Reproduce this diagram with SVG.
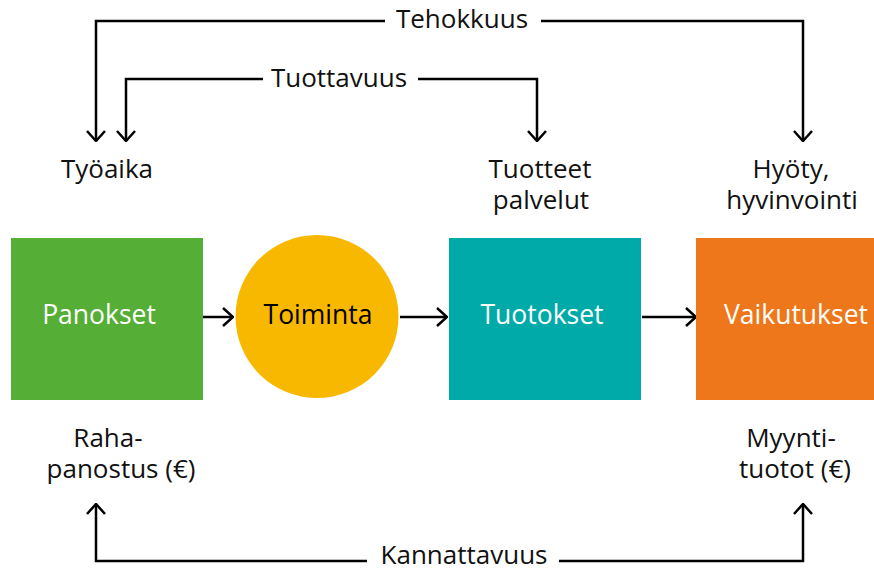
<svg xmlns="http://www.w3.org/2000/svg" width="874" height="571" viewBox="0 0 874 571">
  <style>
    .lbl { font-family: "Open Sans", "Liberation Sans", sans-serif; font-size: 26px; fill: #111; text-anchor: middle; }
    .in { font-family: "Open Sans", "Liberation Sans", sans-serif; font-size: 26.5px; text-anchor: middle; }
    .ln { fill: none; stroke: #000; stroke-width: 2.5; }
  </style>
  <defs>
    <marker id="arr" viewBox="0 0 12 20" refX="11" refY="10" markerWidth="12" markerHeight="20" markerUnits="userSpaceOnUse" orient="auto">
      <path d="M1,1 L11,10 L1,19" fill="none" stroke="#000" stroke-width="2.5"/>
    </marker>
  </defs>
  <rect width="874" height="571" fill="#fff"/>

  <g id="connectors">
    <!-- Tehokkuus -->
    <path class="ln" d="M385,21 H96 V141" marker-end="url(#arr)"/>
    <path class="ln" d="M541,21 H803 V141" marker-end="url(#arr)"/>
    <!-- Tuottavuus -->
    <path class="ln" d="M263,79 H126 V141" marker-end="url(#arr)"/>
    <path class="ln" d="M418,79 H537 V141" marker-end="url(#arr)"/>
    <!-- Kannattavuus -->
    <path class="ln" d="M367,561 H96 V504" marker-end="url(#arr)"/>
    <path class="ln" d="M559,561 H803 V504" marker-end="url(#arr)"/>
    <!-- flow -->
    <path class="ln" d="M203,317 H233" marker-end="url(#arr)"/>
    <path class="ln" d="M400,317 H447" marker-end="url(#arr)"/>
    <path class="ln" d="M642,317 H696" marker-end="url(#arr)"/>
    <text class="lbl" x="462" y="28">Tehokkuus</text>
    <text class="lbl" x="339" y="87">Tuottavuus</text>
    <text class="lbl" x="464" y="564">Kannattavuus</text>
  </g>

  <g id="panokset">
    <rect x="11" y="238" width="192" height="162" fill="#55AE35"/>
    <text class="in" x="99" y="324" fill="#fff">Panokset</text>
  </g>
  <g id="toiminta">
    <circle cx="317" cy="316.5" r="81.5" fill="#F9B800"/>
    <text class="in" x="318" y="324" fill="#000">Toiminta</text>
  </g>
  <g id="tuotokset">
    <rect x="449" y="238" width="192" height="162" fill="#00AAA8"/>
    <text class="in" x="542" y="324" fill="#fff">Tuotokset</text>
  </g>
  <g id="vaikutukset">
    <rect x="696" y="238" width="192" height="162" fill="#EE771C"/>
    <text class="in" x="796" y="324" fill="#fff">Vaikutukset</text>
  </g>

  <g id="tyoaika">
    <text class="lbl" x="107" y="178">Työaika</text>
  </g>
  <g id="tuotteet">
    <text class="lbl" x="540" y="178">Tuotteet</text>
    <text class="lbl" x="541" y="209">palvelut</text>
  </g>
  <g id="hyoty">
    <text class="lbl" x="791" y="178">Hyöty,</text>
    <text class="lbl" x="792" y="209">hyvinvointi</text>
  </g>
  <g id="rahapanostus">
    <text class="lbl" x="108" y="447">Raha-</text>
    <text class="lbl" x="121" y="478">panostus (€)</text>
  </g>
  <g id="myyntituotot">
    <text class="lbl" x="791" y="447">Myynti-</text>
    <text class="lbl" x="795" y="478">tuotot (€)</text>
  </g>
</svg>
